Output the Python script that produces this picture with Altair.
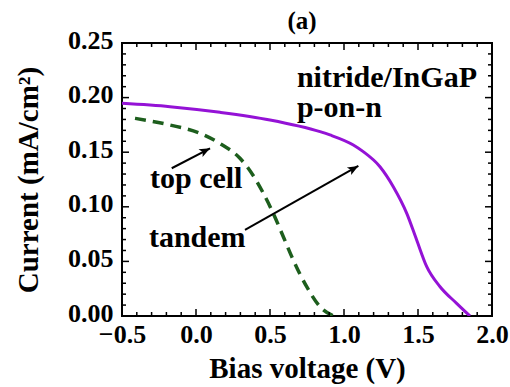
import altair as alt
import pandas as pd
import math

# --- data ---
tandem_v = [-0.5, -0.176, 0.162, 0.5, 0.838, 0.905, 1.063, 1.13, 1.243, 1.333, 1.424, 1.491, 1.559, 1.649, 1.761, 1.851]
tandem_i = [0.1948, 0.1917, 0.1865, 0.1795, 0.1688, 0.1658, 0.1566, 0.1505, 0.1367, 0.1184, 0.094, 0.0696, 0.0452, 0.0268, 0.0116, 0.0]

top_v = [-0.412, -0.176, 0.027, 0.162, 0.297, 0.353, 0.455, 0.522, 0.59, 0.657, 0.748, 0.838, 0.93]
top_i = [0.181, 0.1749, 0.1673, 0.158, 0.1444, 0.1353, 0.1124, 0.094, 0.0726, 0.0513, 0.0268, 0.0085, 0.0]

labels = ["nitride/InGaP", "p-on-n", "top cell", "tandem"]
label_v = [0.682, 0.682, -0.311, -0.318]
label_i = [0.2097, 0.182, 0.117, 0.0635]

arrow_names = ["top cell", "tandem"]
arrow_v0 = [-0.164, 0.331]
arrow_i0 = [0.1353, 0.0788]
arrow_v1 = [0.095, 1.097]
arrow_i1 = [0.1536, 0.1374]

x_major = [-0.5, 0.0, 0.5, 1.0, 1.5, 2.0]
y_major = [0.0, 0.05, 0.10, 0.15, 0.20, 0.25]

W, H = 370, 273
XD, YD = [-0.5, 2.0], [0.0, 0.25]
FONT = "Liberation Serif, Times New Roman, serif"

xs = alt.Scale(domain=XD, nice=False, zero=False, padding=0)
ys = alt.Scale(domain=YD, nice=False, zero=False, padding=0)

curves = pd.concat([
    pd.DataFrame({"v": tandem_v, "i": tandem_i, "s": "tandem", "o": range(len(tandem_v))}),
    pd.DataFrame({"v": top_v, "i": top_i, "s": "top", "o": range(len(top_v))}),
])

base_x = alt.X("v:Q", scale=xs, axis=alt.Axis(
    values=x_major, format=".1f", title="Bias voltage (V)", tickSize=0, domain=False, grid=False,
    labelFlush=False, labelOverlap=False,
    labelFont=FONT, labelFontSize=26, labelFontWeight="bold", labelColor="black", labelPadding=5,
    titleFont=FONT, titleFontSize=29, titleFontWeight="bold", titleColor="black", titlePadding=7))
base_y = alt.Y("i:Q", scale=ys, axis=alt.Axis(
    values=y_major, format=".2f", title="Current (mA/cm²)", tickSize=0, domain=False, grid=False,
    labelFlush=False, labelOverlap=False, labelOffset=-3,
    labelFont=FONT, labelFontSize=26, labelFontWeight="bold", labelColor="black", labelPadding=9,
    titleFont=FONT, titleFontSize=29, titleFontWeight="bold", titleColor="black", titlePadding=24))

tandem_line = alt.Chart(curves[curves.s == "tandem"]).mark_line(
    color="#9412d6", strokeWidth=3, interpolate="monotone", clip=True
).encode(x=base_x, y=base_y, order="o:Q")

top_line = alt.Chart(curves[curves.s == "top"]).mark_line(
    color="#1d5e1d", strokeWidth=3.5, strokeDash=[11, 7], interpolate="monotone", clip=True
).encode(x=alt.X("v:Q", scale=xs), y=alt.Y("i:Q", scale=ys), order="o:Q")

# tick positions (inward, all four sides)
x_minor = [round(-0.5 + k * 0.1, 4) for k in range(26)]
y_minor = [round(k * 0.01, 4) for k in range(26)]
xt = pd.DataFrame({"v": x_minor, "major": [round(v * 10) % 5 == 0 for v in x_minor]})
yt = pd.DataFrame({"i": y_minor, "major": [round(v * 100) % 5 == 0 for v in y_minor]})

tick_style = dict(color="black", strokeWidth=1.5)

def xticks(y0, y1, major):
    return alt.Chart(xt[xt.major == major]).mark_rule(**tick_style).encode(
        x=alt.X("v:Q", scale=xs), y=alt.value(y0), y2=alt.value(y1))

def yticks(x0, x1, major):
    return alt.Chart(yt[yt.major == major]).mark_rule(**tick_style).encode(
        y=alt.Y("i:Q", scale=ys), x=alt.value(x0), x2=alt.value(x1))

tick_layers = [
    xticks(H, H - 7, True), xticks(H, H - 4, False),
    xticks(0, 7, True), xticks(0, 4, False),
    yticks(0, 7, True), yticks(0, 4, False),
    yticks(W, W - 7, True), yticks(W, W - 4, False),
]

texts = alt.Chart(pd.DataFrame({"t": labels, "v": label_v, "i": label_i})).mark_text(
    font=FONT, fontSize=30, fontWeight="bold", align="left", baseline="alphabetic", color="black"
).encode(x=alt.X("v:Q", scale=xs), y=alt.Y("i:Q", scale=ys), text="t:N")

# arrows
px_per_v = W / (XD[1] - XD[0])
px_per_i = H / (YD[1] - YD[0])
angles = [math.degrees(math.atan2((v1 - v0) * px_per_v, (i1 - i0) * px_per_i))
          for v0, i0, v1, i1 in zip(arrow_v0, arrow_i0, arrow_v1, arrow_i1)]
arr = pd.DataFrame({"n": arrow_names, "v0": arrow_v0, "i0": arrow_i0,
                    "v1": arrow_v1, "i1": arrow_i1, "ang": angles})
shafts = alt.Chart(arr).mark_rule(color="black", strokeWidth=2).encode(
    x=alt.X("v0:Q", scale=xs), y=alt.Y("i0:Q", scale=ys), x2="v1:Q", y2="i1:Q")
heads = alt.Chart(arr).mark_point(
    shape="M0,0L-0.45,1.1L0,0.85L0.45,1.1Z", filled=True, color="black", opacity=1, size=380
).encode(x=alt.X("v1:Q", scale=xs), y=alt.Y("i1:Q", scale=ys),
         angle=alt.Angle("ang:Q", scale=None))

chart = alt.layer(
    tandem_line, top_line, *tick_layers, texts, shafts, heads
).properties(
    width=W, height=H,
    title=alt.TitleParams("(a)", font=FONT, fontSize=25, fontWeight="bold", color="black",
                          anchor="middle", offset=-7, dx=-5),
    padding={"left": 122, "top": 43, "right": 18, "bottom": 71},
    autosize="none",
    background="white",
).configure_view(stroke="black", strokeWidth=2)

chart.save("out.html", embed_options={"renderer": "svg", "actions": False})
